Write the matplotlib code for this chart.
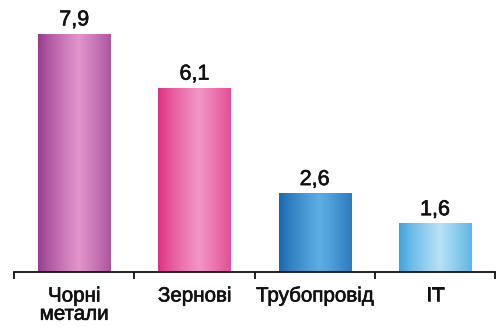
import matplotlib
matplotlib.use("Agg")
import matplotlib.pyplot as plt
import matplotlib.patheffects as pe
import numpy as np
from matplotlib.colors import LinearSegmentedColormap

categories = ["Чорні\nметали", "Зернові", "Трубопровід", "IT"]
values = [7.9, 6.1, 2.6, 1.6]
labels = ["7,9", "6,1", "2,6", "1,6"]
edge_colors = ["#963a8c", "#dc2f80", "#1666b0", "#3aa2dc"]
mid_colors = ["#e294cb", "#f396c6", "#5eaee4", "#b6e2f8"]

plt.rcParams['font.family'] = ['Liberation Sans', 'DejaVu Sans']

fig = plt.figure(figsize=(4.98, 3.27), dpi=100)
ax = fig.add_axes([14/498, 55/327, 481/498, 272/327])
x = np.arange(len(values)) + 0.5
bars = ax.bar(x, values, width=0.6, color="none", edgecolor="none")
ax.set_xlim(0, 4)
ax.set_ylim(0, 9.03)

thick = [pe.withStroke(linewidth=0.45, foreground="#111111")]

grad = np.linspace(0, 1, 200)
prof = 1 - np.abs(grad - 0.56) / 0.56
prof = np.clip(prof, 0, 1) ** 0.8
for b, ec, mc, lab in zip(bars, edge_colors, mid_colors, labels):
    cmap = LinearSegmentedColormap.from_list("g", [ec, mc])
    x0, w, h = b.get_x(), b.get_width(), b.get_height()
    ax.imshow(prof[np.newaxis, :], cmap=cmap, aspect="auto",
              extent=[x0, x0 + w, 0, h], vmin=0, vmax=1, zorder=2)
    ax.text(x0 + w / 2, h + 0.12, lab, ha="center", va="bottom",
            fontsize=15.5, color="#111111", path_effects=thick)

ax.set_xlim(0, 4)
ax.set_ylim(0, 9.03)
for s in ["top", "right", "left"]:
    ax.spines[s].set_visible(False)
ax.spines["bottom"].set_linewidth(1.3)
ax.spines["bottom"].set_color("#111111")
ax.set_yticks([])
ax.set_xticks([0, 1, 2, 3, 4])
ax.set_xticklabels([])
ax.tick_params(axis="x", length=5, width=1.3, color="#111111")
for xi, c in zip(x, categories):
    ax.text(xi, -0.48, c, ha="center", va="top", fontsize=14.8,
            color="#111111", linespacing=0.95, path_effects=thick)

fig.savefig("out.png", dpi=100)
